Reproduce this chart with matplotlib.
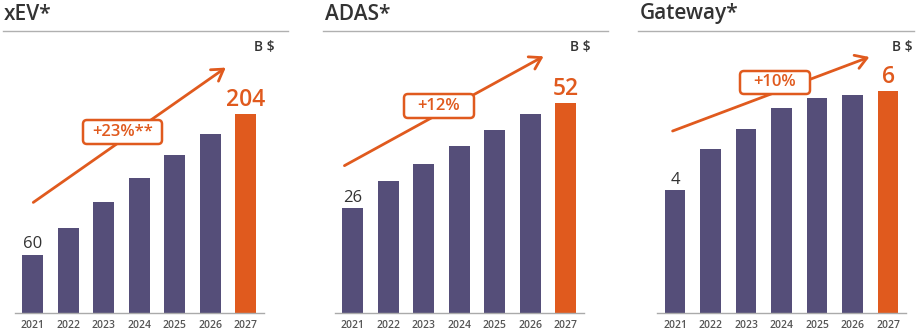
import matplotlib.pyplot as plt
from matplotlib.patches import FancyArrowPatch, FancyBboxPatch
from matplotlib.lines import Line2D

plt.rcParams['font.family'] = ['Open Sans', 'DejaVu Sans']

years = ["2021", "2022", "2023", "2024", "2025", "2026", "2027"]

titles = ["xEV*", "ADAS*", "Gateway*"]
xev = [60, 87, 114, 139, 162, 184, 204]
adas = [26, 32.6, 36.9, 41.4, 45.3, 49.3, 52]
gateway = [3.6, 4.8, 5.4, 6.0, 6.3, 6.4, 6.5]
first_labels = ["60", "26", "4"]
last_labels = ["204", "52", "6"]
cagr = ["+23%**", "+12%", "+10%"]
ymax = [260, 62.6, 7.42]

purple = "#554E79"
orange = "#E05A1E"
dark = "#333333"
gray = "#555555"

W, H = 916, 330
fig = plt.figure(figsize=(W / 100, H / 100), dpi=100)


def px(x, y):
    # image pixel -> inches from bottom-left
    return x / 100, (H - y) / 100


# panel layout in image pixels
ax_left = [15, 335, 657.3]
ax_width = 248.5
line_x = [(3, 288), (323, 608), (638, 914)]
title_x = [4, 325, 640]
unit_x = [275, 591, 913]
arrows = [((31, 204), (228, 66)), ((342, 167), (546, 55)), ((670, 132), (872, 56))]
boxes = [(83, 120, 79, 24), (404, 94, 70, 24), (740, 71, 70, 23)]

series = [xev, adas, gateway]
for i, vals in enumerate(series):
    ax = fig.add_axes([ax_left[i] / W, 17 / H, ax_width / W, 253 / H])
    colors = [purple] * (len(vals) - 1) + [orange]
    xs = range(len(vals))
    ax.bar(xs, vals, width=0.58, color=colors)
    ax.set_xlim(-0.5, len(vals) - 0.5)
    ax.set_ylim(0, ymax[i])
    ax.set_xticks(list(xs))
    ax.set_xticklabels(years, fontsize=7.5, color=gray, fontweight='semibold')
    ax.tick_params(axis='x', length=0, pad=5)
    ax.set_yticks([])
    for s in ["top", "right", "left"]:
        ax.spines[s].set_visible(False)
    ax.spines["bottom"].set_color("#aaaaaa")
    ax.spines["bottom"].set_linewidth(1)

    ax.annotate(first_labels[i], (0, vals[0]), xytext=(0, 4.5), textcoords="offset points",
                ha="center", va="baseline", fontsize=12, color=dark)
    ax.annotate(last_labels[i], (len(vals) - 1, vals[-1]), xytext=(0, 6), textcoords="offset points",
                ha="center", va="baseline", fontsize=16.5, color=orange, fontweight="semibold")

    # title, rule and unit
    fig.text(title_x[i] / W, 1 - 14 / H, titles[i], fontsize=15, color=dark,
             fontweight="semibold", ha="left", va="center")
    fig.add_artist(Line2D([line_x[i][0] / W, line_x[i][1] / W], [1 - 31 / H, 1 - 31 / H],
                          transform=fig.transFigure, color="#b0b0b0", lw=1))
    fig.text(unit_x[i] / W, 1 - 47 / H, "B $", fontsize=10, color=dark,
             fontweight="semibold", ha="right", va="center")

    # growth arrow with rounded label box
    (x0, y0), (x1, y1) = arrows[i]
    arr = FancyArrowPatch(px(x0, y0), px(x1, y1), transform=fig.dpi_scale_trans,
                          arrowstyle="->,head_length=8,head_width=5", color=orange,
                          lw=2, mutation_scale=1)
    fig.add_artist(arr)
    bx, by, bw, bh = boxes[i]
    bx0, by0 = px(bx, by + bh)
    box = FancyBboxPatch((bx0, by0), bw / 100, bh / 100, transform=fig.dpi_scale_trans,
                         boxstyle="round,pad=0,rounding_size=0.04", facecolor="white",
                         edgecolor=orange, lw=1.8)
    fig.add_artist(box)
    cx, cy = px(bx + bw / 2, by + bh / 2)
    fig.text(cx / (W / 100), cy / (H / 100), cagr[i], fontsize=12, color=orange,
             fontweight="semibold", ha="center", va="center")

fig.savefig("out.png", dpi=100)
